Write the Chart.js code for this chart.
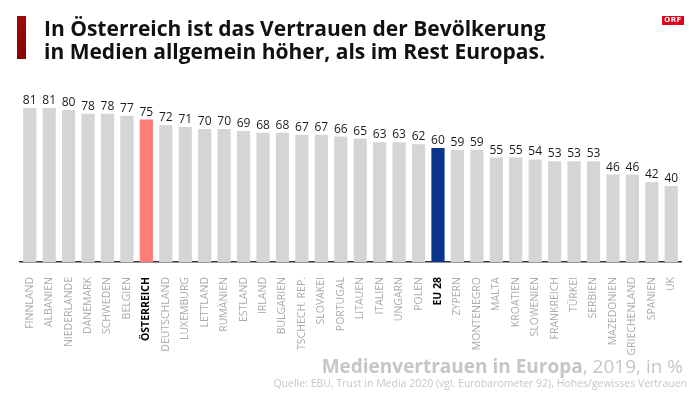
<!DOCTYPE html>
<html>

<head>
    <meta charset="utf-8" />
    <style>
        body { margin: 0; background: #fff; }
        .wrap { position: relative; width: 700px; height: 397px; overflow: hidden; }
        #chart { position: absolute; left: 0; top: 0; }
        .bar { position: absolute; left: 17px; top: 16px; width: 9px; height: 43px; background: linear-gradient(#9e0b0b, #8a0000); }
        .title { position: absolute; left: 44px; top: 17px; font-family: "Open Sans", sans-serif; font-weight: 700; font-size: 21px; line-height: 23px; letter-spacing: 0px; color: #111; white-space: nowrap; }
        .orf { position: absolute; left: 662px; top: 16px; width: 22px; height: 9px; background: #e2001a; color: #fff; font-family: "DejaVu Sans", sans-serif; font-weight: 700; font-size: 7px; line-height: 9px; text-align: center; letter-spacing: 0.5px; }
        .foot { position: absolute; right: 17px; top: 353px; font-family: "Open Sans", sans-serif; font-size: 19px; color: #c6c6c6; white-space: nowrap; }
        .foot b { font-weight: 700; }
        .src { position: absolute; right: 13px; top: 376px; font-family: "Open Sans", sans-serif; font-size: 10.5px; color: #c6c6c6; white-space: nowrap; }
    </style>
</head>

<body>
    <div class="wrap">
        <canvas id="chart" width="700" height="397"></canvas>
        <div class="bar"></div>
        <div class="title">In Österreich ist das Vertrauen der Bevölkerung<br>in Medien allgemein höher, als im Rest Europas.</div>
        <div class="orf">ORF</div>
        <div class="foot"><b>Medienvertrauen in Europa</b>, 2019, in %</div>
        <div class="src">Quelle: EBU, Trust in Media 2020 (vgl. Eurobarometer 92), Hohes/gewisses Vertrauen</div>
    </div>

    <script src="https://cdn.jsdelivr.net/npm/chart.js"></script>
    <script type="text/javascript">

        // Länder und Werte (Anteil hohes/gewisses Vertrauen, in %)
        var laender = ['FINNLAND', 'ALBANIEN', 'NIEDERLANDE', 'DÄNEMARK', 'SCHWEDEN', 'BELGIEN', 'ÖSTERREICH',
            'DEUTSCHLAND', 'LUXEMBURG', 'LETTLAND', 'RUMÄNIEN', 'ESTLAND', 'IRLAND', 'BULGARIEN', 'TSCHECH. REP.',
            'SLOVAKEI', 'PORTUGAL', 'LITAUEN', 'ITALIEN', 'UNGARN', 'POLEN', 'EU 28', 'ZYPERN', 'MONTENEGRO',
            'MALTA', 'KROATIEN', 'SLOWENIEN', 'FRANKREICH', 'TÜRKEI', 'SERBIEN', 'MAZEDONIEN', 'GRIECHENLAND',
            'SPANIEN', 'UK'];
        var werte = [81, 81, 80, 78, 78, 77, 75, 72, 71, 70, 70, 69, 68, 68, 67, 67, 66, 65, 63, 63, 62, 60, 59, 59,
            55, 55, 54, 53, 53, 53, 46, 46, 42, 40];

        // hervorgehobene Balken
        var hervorgehoben = { 'ÖSTERREICH': '#ff7d79', 'EU 28': '#0b348f' };

        var farben = laender.map(l => hervorgehoben[l] || '#d5d5d5');

        // Zahlen über den Balken
        const wertLabels = {
            id: 'wertLabels',
            afterDatasetsDraw(chart) {
                const ctx = chart.ctx;
                const meta = chart.getDatasetMeta(0);
                ctx.save();
                ctx.font = '12px "Open Sans"';
                ctx.fillStyle = '#1a1a1a';
                ctx.textAlign = 'center';
                ctx.textBaseline = 'alphabetic';
                meta.data.forEach((bar, i) => {
                    ctx.fillText(werte[i], bar.x, bar.y - 4);
                });
                ctx.restore();
            }
        };

        const ctx = document.getElementById('chart').getContext('2d');
        let myChart = new Chart(ctx, {
            type: 'bar',
            data: {
                labels: laender,
                datasets: [{
                    data: werte,
                    backgroundColor: farben,
                    borderWidth: 0,
                    barPercentage: 0.68,
                    categoryPercentage: 1
                }]
            },
            options: {
                responsive: false,
                animation: false,
                layout: { padding: { left: 20, right: 19, top: 72, bottom: 0 } },
                plugins: { legend: { display: false }, tooltip: { enabled: false } },
                scales: {
                    x: {
                        grid: { display: false },
                        border: { display: true, color: '#333', width: 1.5 },
                        afterFit: function (scale) { scale.height = 135; },
                        ticks: {
                            autoSkip: false,
                            minRotation: 90,
                            maxRotation: 90,
                            padding: 7,
                            color: c => hervorgehoben[laender[c.index]] ? '#000' : '#ababab',
                            font: c => hervorgehoben[laender[c.index]]
                                ? { family: '"Open Sans"', size: 10.5, weight: 'bold' }
                                : { family: '"Open Sans"', size: 10.5 }
                        }
                    },
                    y: {
                        display: false,
                        min: 0,
                        max: 100
                    }
                }
            },
            plugins: [wertLabels]
        });

    </script>

</body>

</html>
